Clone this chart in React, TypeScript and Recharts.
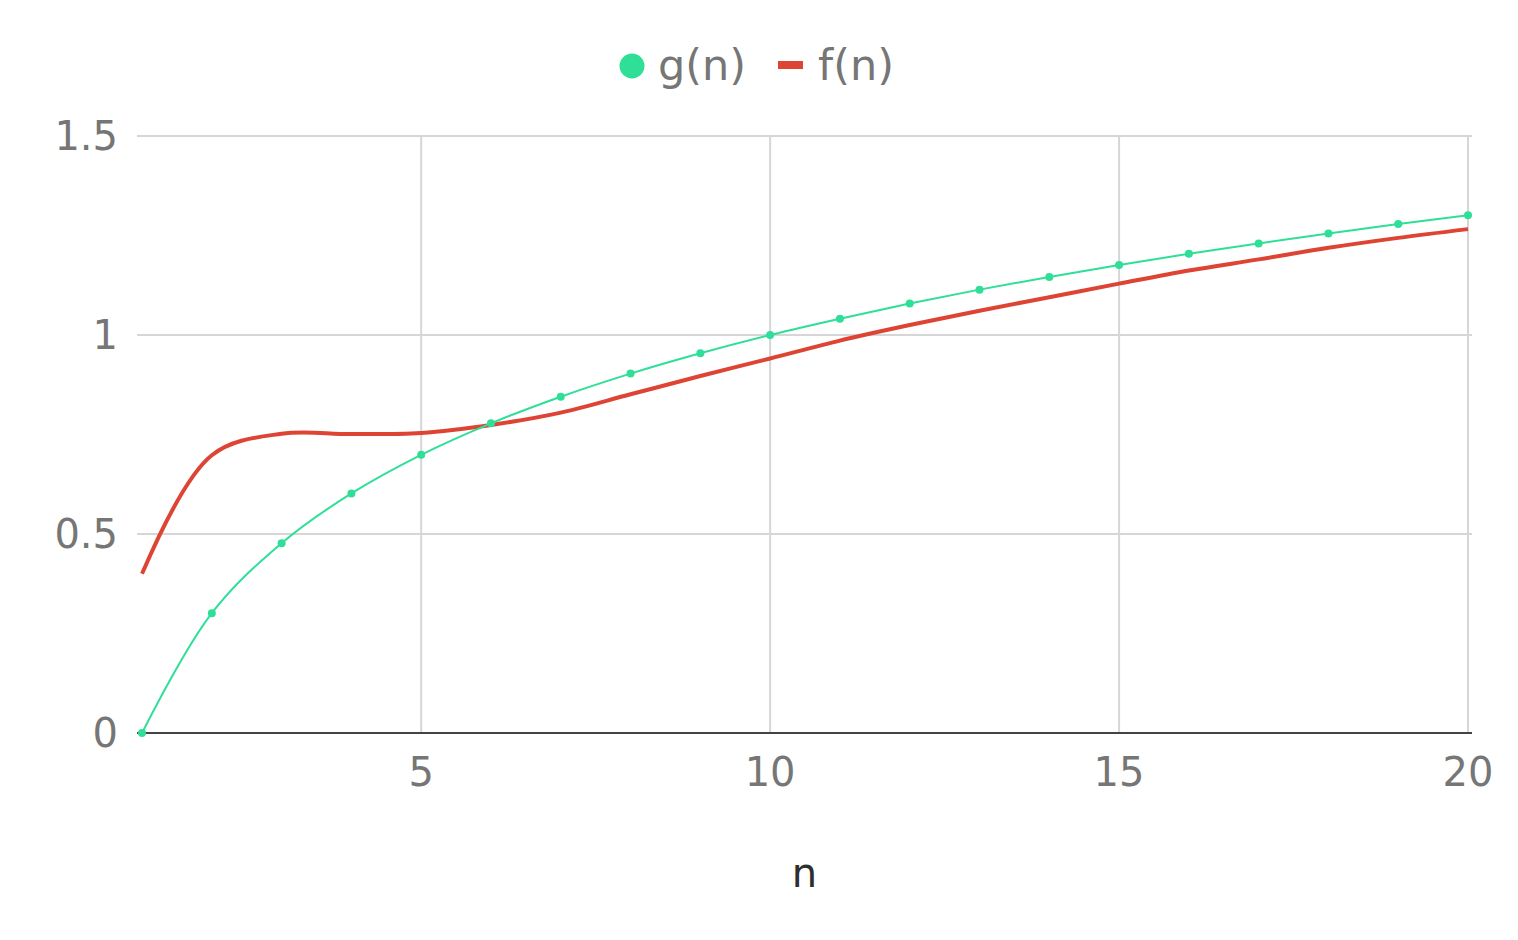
import React from 'react';
import { LineChart, Line, XAxis, YAxis, CartesianGrid, ReferenceLine } from 'recharts';

const nValues = [1, 2, 3, 4, 5, 6, 7, 8, 9, 10, 11, 12, 13, 14, 15, 16, 17, 18, 19, 20];
const gValues = [0, 0.301, 0.477, 0.602, 0.699, 0.778, 0.845, 0.903, 0.954, 1.0, 1.041, 1.079, 1.114, 1.146, 1.176, 1.204, 1.23, 1.255, 1.279, 1.301];
const fValues = [0.4, 0.698, 0.752, 0.751, 0.754, 0.774, 0.805, 0.851, 0.897, 0.941, 0.986, 1.025, 1.061, 1.095, 1.129, 1.162, 1.19, 1.219, 1.244, 1.266];
const xTicks = [5, 10, 15, 20];
const yTicks = [0, 0.5, 1, 1.5];

const data = nValues.map((n, i) => ({ n, g: gValues[i], f: fValues[i] }));

const GREEN = '#2fdf98';
const RED = '#dd4433';
const GRID = '#d6d6d6';
const FONT = '"DejaVu Sans", Verdana, sans-serif';
const FS = 40;
const LEGEND_FS = 43;

// Centripetal Catmull-Rom style smoothing in pixel space (spline line shape)
function makeTangent(p0: number[], p1: number[], p2: number[], s: number) {
  const d1x = p0[0] - p1[0];
  const d1y = p0[1] - p1[1];
  const d2x = p2[0] - p1[0];
  const d2y = p2[1] - p1[1];
  const d1a = Math.pow(d1x * d1x + d1y * d1y, 0.25);
  const d2a = Math.pow(d2x * d2x + d2y * d2y, 0.25);
  const numx = (d2a * d2a * d1x - d1a * d1a * d2x) * s;
  const numy = (d2a * d2a * d1y - d1a * d1a * d2y) * s;
  const den1 = 3 * d2a * (d1a + d2a);
  const den2 = 3 * d1a * (d1a + d2a);
  return [
    [p1[0] + (den1 ? numx / den1 : 0), p1[1] + (den1 ? numy / den1 : 0)],
    [p1[0] - (den2 ? numx / den2 : 0), p1[1] - (den2 ? numy / den2 : 0)],
  ];
}

const splineCurve = (context: any) => {
  let pts: number[][] = [];
  return {
    areaStart() {},
    areaEnd() {},
    lineStart() {
      pts = [];
    },
    point(x: number, y: number) {
      pts.push([+x, +y]);
    },
    lineEnd() {
      const n = pts.length;
      if (!n) return;
      context.moveTo(pts[0][0], pts[0][1]);
      if (n < 3) {
        for (let i = 1; i < n; i++) context.lineTo(pts[i][0], pts[i][1]);
        return;
      }
      const t: number[][][] = [];
      for (let i = 1; i < n - 1; i++) t.push(makeTangent(pts[i - 1], pts[i], pts[i + 1], 1));
      context.quadraticCurveTo(t[0][0][0], t[0][0][1], pts[1][0], pts[1][1]);
      for (let i = 2; i < n - 1; i++) {
        context.bezierCurveTo(
          t[i - 2][1][0],
          t[i - 2][1][1],
          t[i - 1][0][0],
          t[i - 1][0][1],
          pts[i][0],
          pts[i][1]
        );
      }
      context.quadraticCurveTo(t[n - 3][1][0], t[n - 3][1][1], pts[n - 1][0], pts[n - 1][1]);
    },
  };
};

export default function App() {
  return (
    <div style={{ position: 'relative', width: 1510, height: 924 }}>
      <LineChart
        width={1510}
        height={924}
        data={data}
        margin={{ top: 128, right: 46, bottom: 139, left: 0 }}
      >
        <CartesianGrid stroke={GRID} strokeWidth={2} vertical={false} />
        {xTicks.map((t) => (
          <ReferenceLine key={t} x={t} stroke={GRID} strokeWidth={2} />
        ))}
        <XAxis
          dataKey="n"
          type="number"
          domain={[0.928, 20.057]}
          allowDataOverflow
          ticks={xTicks}
          tickLine={false}
          axisLine={false}
          tickSize={0}
          tickMargin={25}
          height={60}
          tick={{ fill: '#767676', fontSize: FS, fontFamily: FONT }}
          label={{
            content: (props: any) => {
              const vb = props.viewBox || { x: 129, y: 725, width: 1335 };
              return (
                <text
                  x={vb.x + vb.width / 2}
                  y={vb.y + 154}
                  textAnchor="middle"
                  fill="#2e2e2e"
                  fontSize={FS}
                  fontFamily={FONT}
                >
                  n
                </text>
              );
            },
          }}
        />
        <YAxis
          type="number"
          domain={[0, 1.5]}
          ticks={yTicks}
          width={129}
          tickLine={false}
          axisLine={false}
          tickSize={0}
          tickMargin={19}
          tick={{ fill: '#767676', fontSize: FS, fontFamily: FONT }}
        />
        <ReferenceLine y={0} stroke="#444444" strokeWidth={2} />
        <Line
          type={splineCurve as any}
          dataKey="f"
          stroke={RED}
          strokeWidth={4}
          dot={false}
          activeDot={false}
          isAnimationActive={false}
        />
        <Line
          type={splineCurve as any}
          dataKey="g"
          stroke={GREEN}
          strokeWidth={2}
          dot={{ r: 4, fill: GREEN, stroke: 'none' }}
          activeDot={false}
          isAnimationActive={false}
        />
      </LineChart>
      <svg
        width={1510}
        height={110}
        style={{ position: 'absolute', left: 0, top: 0, pointerEvents: 'none' }}
      >
        <circle cx={624} cy={58} r={12.5} fill={GREEN} />
        <text x={650} y={72} fill="#767676" fontSize={LEGEND_FS} fontFamily={FONT}>
          g(n)
        </text>
        <rect x={770} y={53} width={25} height={8} fill={RED} />
        <text x={810} y={72} fill="#767676" fontSize={LEGEND_FS} fontFamily={FONT}>
          f(n)
        </text>
      </svg>
    </div>
  );
}
